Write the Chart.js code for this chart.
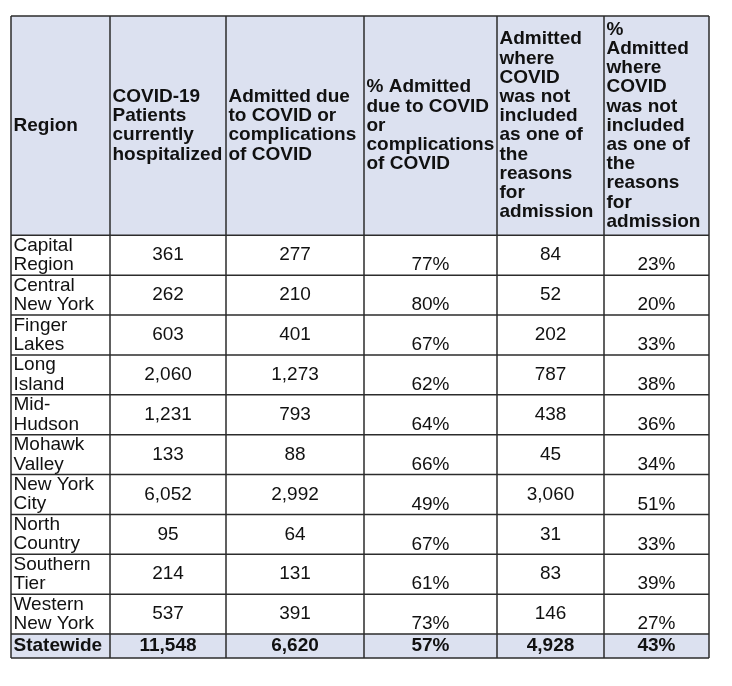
<!DOCTYPE html>
<html><head><meta charset="utf-8">
<script src="https://cdn.jsdelivr.net/npm/chart.js@4/dist/chart.umd.min.js"></script>
<style>html,body{margin:0;padding:0;background:#fff}canvas{display:block}</style>
</head><body>
<canvas id="c" width="732" height="686"></canvas>
<script>
// ---- DATA ----
const headers = [
  ['Region'],
  ['COVID-19', 'Patients', 'currently', 'hospitalized'],
  ['Admitted due', 'to COVID or', 'complications', 'of COVID'],
  ['% Admitted', 'due to COVID', 'or', 'complications', 'of COVID'],
  ['Admitted', 'where', 'COVID', 'was not', 'included', 'as one of', 'the', 'reasons', 'for', 'admission'],
  ['%', 'Admitted', 'where', 'COVID', 'was not', 'included', 'as one of', 'the', 'reasons', 'for', 'admission']
];
const regions = [
  ['Capital', 'Region'], ['Central', 'New York'], ['Finger', 'Lakes'], ['Long', 'Island'],
  ['Mid-', 'Hudson'], ['Mohawk', 'Valley'], ['New York', 'City'], ['North', 'Country'],
  ['Southern', 'Tier'], ['Western', 'New York']
];
const totalLabel = 'Statewide';
const hospitalized = [361, 262, 603, 2060, 1231, 133, 6052, 95, 214, 537];
const admittedDue = [277, 210, 401, 1273, 793, 88, 2992, 64, 131, 391];
const pctDue = [77, 80, 67, 62, 64, 66, 49, 67, 61, 73];
const admittedNot = [84, 52, 202, 787, 438, 45, 3060, 31, 83, 146];
const pctNot = [23, 20, 33, 38, 36, 34, 51, 33, 39, 27];
const totals = [11548, 6620, 57, 4928, 43];

// ---- LAYOUT / STYLE ----
const colWidths = [99, 116, 138, 133, 107, 105];
const colKinds = ['label', 'count', 'count', 'pct', 'count', 'pct'];
const headerLines = 11, rowLines = 2, totalLines = 1.2;
const shade = '#dce1f0';
const border = '#2c2c2c';
const FONT = '"Liberation Sans", Arial, Helvetica, sans-serif';

const fmt = (v, kind) => kind === 'pct' ? v + '%' : v.toLocaleString('en-US');

const columns = [regions, hospitalized, admittedDue, pctDue, admittedNot, pctNot];

const colEdges = [0];
colWidths.forEach(w => colEdges.push(colEdges[colEdges.length - 1] + w));
const rowEdges = [0, headerLines];
regions.forEach(() => rowEdges.push(rowEdges[rowEdges.length - 1] + rowLines));
rowEdges.push(rowEdges[rowEdges.length - 1] + totalLines);

const tablePlugin = {
  id: 'table',
  afterDraw(chart) {
    const ctx = chart.ctx, xs = chart.scales.x, ys = chart.scales.y;
    const X = v => xs.getPixelForValue(v), Y = v => ys.getPixelForValue(v);
    const left = X(0), right = X(colEdges[colEdges.length - 1]);
    const nR = rowEdges.length - 1;
    ctx.save();
    // shaded rows
    ctx.fillStyle = shade;
    ctx.fillRect(left, Y(rowEdges[0]), right - left, Y(rowEdges[1]) - Y(rowEdges[0]));
    ctx.fillRect(left, Y(rowEdges[nR - 1]), right - left, Y(rowEdges[nR]) - Y(rowEdges[nR - 1]));

    ctx.fillStyle = '#111';
    // header
    ctx.font = 'bold 19px ' + FONT;
    ctx.textBaseline = 'middle';
    ctx.textAlign = 'left';
    const hLh = 19.2;
    headers.forEach((lines, c) => {
      const x0 = X(colEdges[c]);
      const cy = (Y(rowEdges[0]) + Y(rowEdges[1])) / 2;
      const start = cy - (lines.length - 1) * hLh / 2;
      lines.forEach((t, i) => ctx.fillText(t, x0 + 2.5, start + i * hLh));
    });
    // data rows
    const lh = 19.4;
    for (let r = 0; r < regions.length; r++) {
      const y0 = Y(rowEdges[r + 1]), y1 = Y(rowEdges[r + 2]);
      const cy = (y0 + y1) / 2;
      ctx.font = '19px ' + FONT;
      columns.forEach((col, c) => {
        const x0 = X(colEdges[c]), x1 = X(colEdges[c + 1]);
        const kind = colKinds[c];
        if (kind === 'label') {
          ctx.textAlign = 'left';
          const lines = col[r];
          const start = cy - (lines.length - 1) * lh / 2;
          lines.forEach((t, i) => ctx.fillText(t, x0 + 2.5, start + i * lh));
        } else {
          ctx.textAlign = 'center';
          const ty = kind === 'pct' ? y1 - lh / 2 - 0.3 : cy;
          ctx.fillText(fmt(col[r], kind), (x0 + x1) / 2, ty);
        }
      });
    }
    // total row
    {
      const y0 = Y(rowEdges[nR - 1]), y1 = Y(rowEdges[nR]);
      const cy = (y0 + y1) / 2;
      ctx.font = 'bold 19px ' + FONT;
      ctx.textAlign = 'left';
      ctx.fillText(totalLabel, X(colEdges[0]) + 2.5, cy);
      ctx.textAlign = 'center';
      totals.forEach((v, i) => {
        const c = i + 1;
        ctx.fillText(fmt(v, colKinds[c]), (X(colEdges[c]) + X(colEdges[c + 1])) / 2, cy);
      });
    }
    // grid lines
    ctx.strokeStyle = border;
    ctx.lineWidth = 1.5;
    ctx.beginPath();
    rowEdges.forEach(v => { const y = Y(v); ctx.moveTo(left, y); ctx.lineTo(right, y); });
    const top = Y(rowEdges[0]), bottom = Y(rowEdges[nR]);
    colEdges.forEach(v => { const x = X(v); ctx.moveTo(x, top); ctx.lineTo(x, bottom); });
    ctx.stroke();
    ctx.restore();
  }
};

new Chart(document.getElementById('c'), {
  type: 'scatter',
  data: { datasets: [{ data: [], pointRadius: 0 }] },
  options: {
    responsive: false,
    animation: false,
    devicePixelRatio: 1,
    layout: { padding: { left: 11, top: 16, right: 23, bottom: 28 } },
    plugins: { legend: { display: false }, tooltip: { enabled: false } },
    scales: {
      x: { type: 'linear', min: 0, max: colEdges[colEdges.length - 1], display: false },
      y: { type: 'linear', min: 0, max: rowEdges[rowEdges.length - 1], reverse: true, display: false }
    }
  },
  plugins: [tablePlugin]
});
</script>
</body></html>
